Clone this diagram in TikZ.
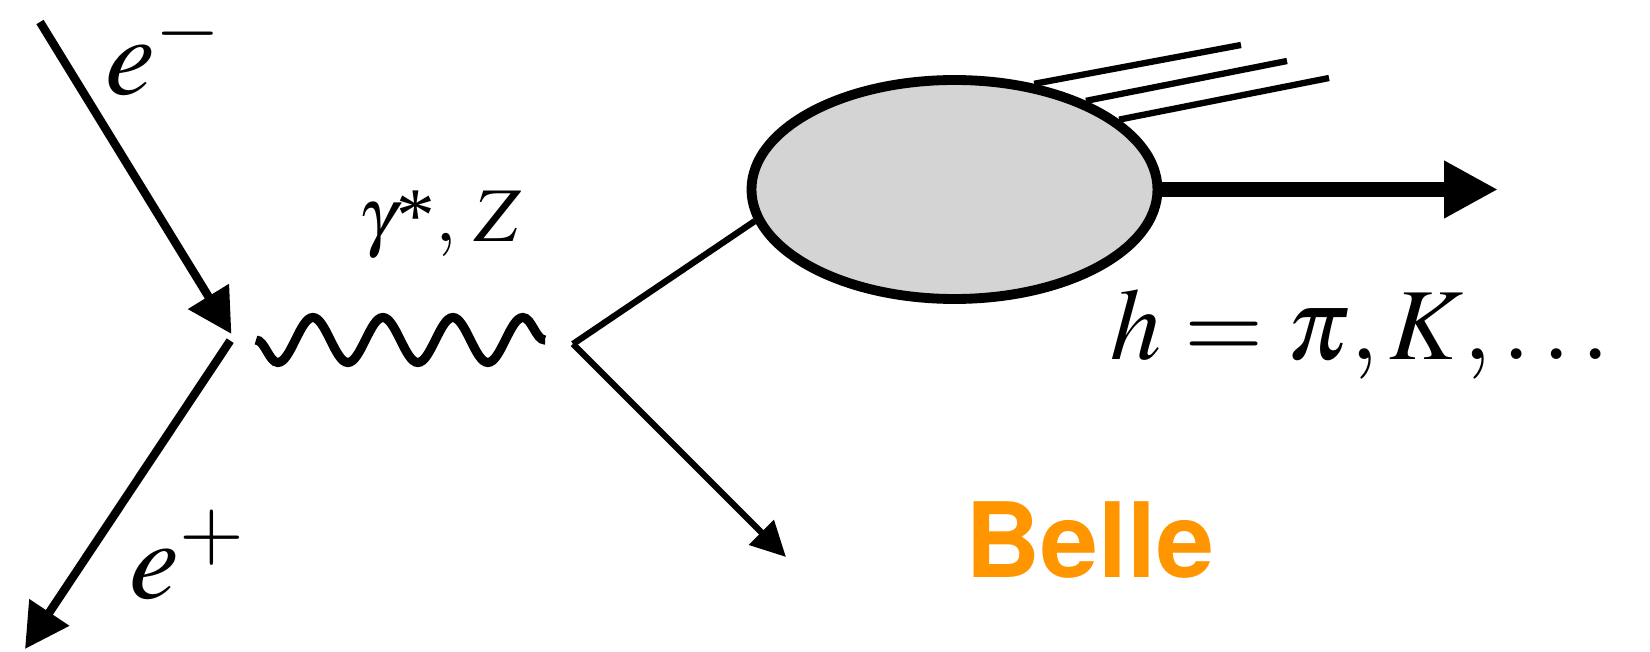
\documentclass[tikz,border=0pt]{standalone}
\usepackage{mathptmx}
\usepackage[no-math]{fontspec}
\setmainfont{Liberation Serif}
\newfontfamily\bellefont{TeX Gyre Heros}
\usetikzlibrary{arrows.meta, shapes.geometric, decorations.pathmorphing}
\definecolor{blobgray}{HTML}{D4D4D4}
\definecolor{belleorange}{HTML}{FF9600}

\begin{document}
\begin{tikzpicture}[
    fermion/.style={line width=2.4pt, -{Triangle[length=0.44cm, width=0.46cm]}},
    quark/.style={line width=1.8pt},
    photon/.style={line width=2.6pt, decorate,
      decoration={snake, mirror, amplitude=0.225cm, segment length=0.70cm}},
    lbl/.style={inner sep=0pt, anchor=base west, font=\fontsize{32}{38}\selectfont},
  ]
  \useasboundingbox (0,0) rectangle (16.5,6.52);
  % --- vertices and free ends ---
  \coordinate (ein)  at (0.40,6.30);
  \coordinate (eout) at (0.25,0.03);
  \coordinate (v1)   at (2.33,3.155);
  \coordinate (g1)   at (2.56,3.12);
  \coordinate (g2)   at (5.45,3.12);
  \coordinate (v2)   at (5.73,3.08);
  \coordinate (qbar) at (7.86,0.95);
  \coordinate (had)  at (14.98,4.625);
  \coordinate (jet1) at (12.41,6.07);
  \coordinate (jet2) at (12.87,5.91);
  \coordinate (jet3) at (13.29,5.74);
  % --- fragmentation blob ---
  \node[ellipse, draw, fill=blobgray, line width=2.8pt, inner sep=0pt,
        minimum width=4.06cm, minimum height=2.19cm] (blob) at (9.545,4.625) {};
  % --- e+ e- annihilation ---
  \draw[fermion, shorten >=0.03cm] (ein) -- (v1);
  \draw[fermion, shorten <=0.05cm] (v1) -- (eout);
  \draw[photon] (g1) -- (g2);
  % --- quark pair ---
  \draw[quark] (v2) -- (blob.189);
  \draw[quark, -{Triangle[length=0.35cm, width=0.34cm]}] (v2) -- (qbar);
  % --- jets and tagged hadron ---
  \draw[quark] (blob.53) -- (jet1);
  \draw[quark] (blob.34) -- (jet2);
  \draw[quark] (blob.23) -- (jet3);
  \draw[line width=4.3pt, -{Triangle[length=0.54cm, width=0.54cm]}] (blob.east) -- (had);
  % --- labels ---
  \node[lbl] (elab) at (1.05,5.57) {$e^-$};
  \node[lbl] (plab) at (1.29,0.53) {$e^+$};
  \node[lbl, font=\fontsize{22}{26}\selectfont] (glab) at (3.58,4.10) {$\gamma\mbox{*},\,Z$};
  \node[lbl, font=\fontsize{29}{34}\selectfont] (hlab) at (11.10,2.92) {$h = \pi, K, \ldots$};
  \node[lbl, font=\bellefont\bfseries\fontsize{29.6}{34}\selectfont, text=belleorange]
    (belle) at (9.65,0.74) {Belle};
\end{tikzpicture}
\end{document}
